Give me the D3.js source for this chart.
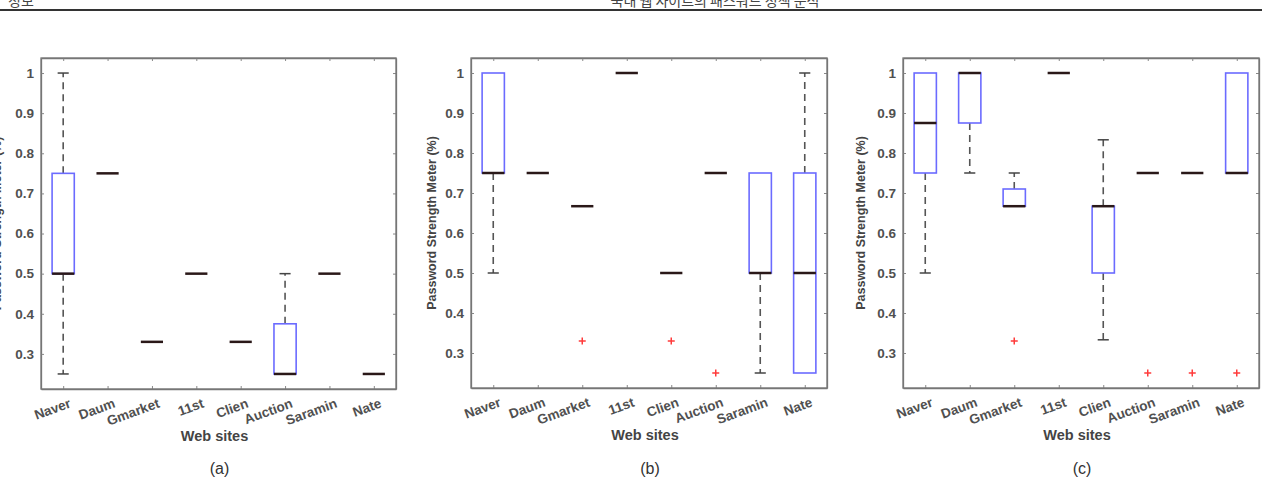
<!DOCTYPE html>
<html>
<head>
<meta charset="utf-8">
<script src="https://cdn.jsdelivr.net/npm/d3@7"></script>
<style>
  body { margin: 0; background: #fff; }
  svg { display: block; }
</style>
</head>
<body>
<div id="viz"></div>
<script>
// page size
const width = 1262
const height = 498

// categories and ticks
const sites = ["Naver", "Daum", "Gmarket", "11st", "Clien", "Auction", "Saramin", "Nate"];
const yTicks = [0.3, 0.4, 0.5, 0.6, 0.7, 0.8, 0.9, 1];

// panel (a): whisker low, q1, median, q3, whisker high
const aLow  = [0.25, 0.75, 0.33, 0.5, 0.33, 0.25, 0.5, 0.25];
const aQ1   = [0.5, 0.75, 0.33, 0.5, 0.33, 0.25, 0.5, 0.25];
const aMed  = [0.5, 0.75, 0.33, 0.5, 0.33, 0.25, 0.5, 0.25];
const aQ3   = [0.75, 0.75, 0.33, 0.5, 0.33, 0.375, 0.5, 0.25];
const aHigh = [1, 0.75, 0.33, 0.5, 0.33, 0.5, 0.5, 0.25];
const aOutSite = [];
const aOutVal  = [];

// panel (b)
const bLow  = [0.5, 0.75, 0.667, 1, 0.5, 0.75, 0.25, 0.25];
const bQ1   = [0.75, 0.75, 0.667, 1, 0.5, 0.75, 0.5, 0.25];
const bMed  = [0.75, 0.75, 0.667, 1, 0.5, 0.75, 0.5, 0.5];
const bQ3   = [1, 0.75, 0.667, 1, 0.5, 0.75, 0.75, 0.75];
const bHigh = [1, 0.75, 0.667, 1, 0.5, 0.75, 0.75, 1];
const bOutSite = ["Gmarket", "Clien", "Auction"];
const bOutVal  = [0.33, 0.33, 0.25];

// panel (c)
const cLow  = [0.5, 0.75, 0.667, 1, 0.333, 0.75, 0.75, 0.75];
const cQ1   = [0.75, 0.875, 0.667, 1, 0.5, 0.75, 0.75, 0.75];
const cMed  = [0.875, 1, 0.667, 1, 0.667, 0.75, 0.75, 0.75];
const cQ3   = [1, 1, 0.71, 1, 0.667, 0.75, 0.75, 1];
const cHigh = [1, 1, 0.75, 1, 0.833, 0.75, 0.75, 1];
const cOutSite = ["Gmarket", "Auction", "Saramin", "Nate"];
const cOutVal  = [0.33, 0.25, 0.25, 0.25];

const svg = d3.select("#viz")
    .append("svg")
    .attr("width", width)
    .attr("height", height);

// running header of the page (cut off at the top, as in the scan)
svg.append("line")
    .attr("x1", 0).attr("x2", width)
    .attr("y1", 10).attr("y2", 10)
    .attr("stroke", "#333")
    .attr("stroke-width", 2);
svg.append("text")
    .attr("x", 8).attr("y", 6)
    .attr("font-family", "Noto Sans CJK KR")
    .attr("font-size", 14)
    .attr("fill", "#444")
    .text("정보");
svg.append("text")
    .attr("x", 715).attr("y", 6)
    .attr("text-anchor", "middle")
    .attr("font-family", "Noto Sans CJK KR")
    .attr("font-size", 14)
    .attr("fill", "#444")
    .text("국내 웹 사이트의 패스워드 정책 분석");

function toRows(site, low, q1, med, q3, high) {
    return site.map((s, i) => ({site: s, low: low[i], q1: q1[i], med: med[i], q3: q3[i], high: high[i]}));
}

const panels = [
    {left: 41, right: 396, top: 58, bottom: 389, tag: "(a)", ylx: -2,
     rows: toRows(sites, aLow, aQ1, aMed, aQ3, aHigh),
     outs: aOutSite.map((s, i) => ({site: s, v: aOutVal[i]}))},
    {left: 471, right: 827, top: 58, bottom: 388, tag: "(b)", ylx: 433,
     rows: toRows(sites, bLow, bQ1, bMed, bQ3, bHigh),
     outs: bOutSite.map((s, i) => ({site: s, v: bOutVal[i]}))},
    {left: 903, right: 1259, top: 58, bottom: 388, tag: "(c)", ylx: 862,
     rows: toRows(sites, cLow, cQ1, cMed, cQ3, cHigh),
     outs: cOutSite.map((s, i) => ({site: s, v: cOutVal[i]}))}
];

const labelColor = "#505050";
const font = "Liberation Sans, Arial, sans-serif";

panels.forEach(function(p) {
    const g = svg.append("g");

    // x: categories at 1..8 with half a step of padding
    const x = d3.scalePoint().domain(sites).range([p.left, p.right]).padding(0.5);
    const step = x.step();
    const y = d3.scaleLinear().domain([0.2125, 1.0375]).range([p.bottom, p.top]);
    const bw = step * 0.5;

    // axes: left with labels, others as ticks only
    const left = g.append("g")
        .attr("transform", "translate(" + p.left + ",0)")
        .call(d3.axisLeft(y).tickValues(yTicks).tickSizeInner(-3).tickSizeOuter(0)
            .tickPadding(7).tickFormat(d3.format("")));
    left.selectAll("text")
        .attr("font-family", font).attr("font-weight", "bold")
        .attr("font-size", 13.5).attr("fill", labelColor);
    g.append("g")
        .attr("transform", "translate(" + p.right + ",0)")
        .call(d3.axisRight(y).tickValues(yTicks).tickSizeInner(-3).tickSizeOuter(0).tickFormat(""));
    const bottom = g.append("g")
        .attr("transform", "translate(0," + p.bottom + ")")
        .call(d3.axisBottom(x).tickSizeInner(-3).tickSizeOuter(0));
    g.append("g")
        .attr("transform", "translate(0," + p.top + ")")
        .call(d3.axisTop(x).tickSizeInner(-3).tickSizeOuter(0).tickFormat(""));
    g.selectAll(".domain").attr("stroke", "#777").attr("stroke-width", 1.3);
    g.selectAll(".tick line").attr("stroke", "#888");

    // rotated site names
    bottom.selectAll("text")
        .attr("font-family", font).attr("font-weight", "bold")
        .attr("font-size", 13.5).attr("fill", labelColor)
        .attr("text-anchor", "end")
        .attr("dy", null)
        .attr("y", null)
        .attr("transform", "translate(8,18) rotate(-20)");

    // box edges
    g.append("rect")
        .attr("x", p.left).attr("y", p.top)
        .attr("width", p.right - p.left).attr("height", p.bottom - p.top)
        .attr("fill", "none").attr("stroke", "#777").attr("stroke-width", 1.3);

    // whiskers
    const rows = g.selectAll(".bx").data(p.rows).enter().append("g").attr("class", "bx");
    rows.filter(d => d.high > d.q3).append("line")
        .attr("x1", d => x(d.site)).attr("x2", d => x(d.site))
        .attr("y1", d => y(d.q3)).attr("y2", d => y(d.high))
        .attr("stroke", "#555").attr("stroke-width", 1.6).attr("stroke-dasharray", "7,5");
    rows.filter(d => d.low < d.q1).append("line")
        .attr("x1", d => x(d.site)).attr("x2", d => x(d.site))
        .attr("y1", d => y(d.q1)).attr("y2", d => y(d.low))
        .attr("stroke", "#555").attr("stroke-width", 1.6).attr("stroke-dasharray", "7,5");
    rows.filter(d => d.high > d.q3).append("line")
        .attr("x1", d => x(d.site) - bw / 4).attr("x2", d => x(d.site) + bw / 4)
        .attr("y1", d => y(d.high)).attr("y2", d => y(d.high))
        .attr("stroke", "#444").attr("stroke-width", 1.5);
    rows.filter(d => d.low < d.q1).append("line")
        .attr("x1", d => x(d.site) - bw / 4).attr("x2", d => x(d.site) + bw / 4)
        .attr("y1", d => y(d.low)).attr("y2", d => y(d.low))
        .attr("stroke", "#444").attr("stroke-width", 1.5);

    // boxes
    rows.filter(d => d.q3 > d.q1).append("rect")
        .attr("x", d => x(d.site) - bw / 2)
        .attr("y", d => y(d.q3))
        .attr("width", bw)
        .attr("height", d => y(d.q1) - y(d.q3))
        .attr("fill", "none").attr("stroke", "#6b6bff").attr("stroke-width", 1.6);

    // medians
    rows.append("line")
        .attr("x1", d => x(d.site) - bw / 2).attr("x2", d => x(d.site) + bw / 2)
        .attr("y1", d => y(d.med)).attr("y2", d => y(d.med))
        .attr("stroke", "#2a1818").attr("stroke-width", 2.5);

    // outliers
    g.selectAll(".out").data(p.outs).enter().append("path")
        .attr("class", "out")
        .attr("transform", d => "translate(" + x(d.site) + "," + y(d.v) + ")")
        .attr("d", "M-3.5,0H3.5M0,-3.5V3.5")
        .attr("stroke", "#ff3b3b").attr("stroke-width", 1.5);

    // axis titles
    g.append("text")
        .attr("x", (p.left + p.right) / 2 - 4).attr("y", p.bottom + 52)
        .attr("text-anchor", "middle")
        .attr("font-family", font).attr("font-weight", "bold")
        .attr("font-size", 14.5).attr("fill", "#444")
        .text("Web sites");
    g.append("text")
        .attr("transform", "translate(" + p.ylx + "," + (p.top + p.bottom) / 2 + ") rotate(-90)")
        .attr("text-anchor", "middle")
        .attr("dominant-baseline", "middle")
        .attr("font-family", font).attr("font-weight", "bold")
        .attr("font-size", 12.5).attr("fill", "#444")
        .text("Password Strength Meter (%)");

    // sub-figure tag
    g.append("text")
        .attr("x", (p.left + p.right) / 2 + 1).attr("y", 474)
        .attr("text-anchor", "middle")
        .attr("font-family", font)
        .attr("font-size", 16).attr("fill", "#333")
        .text(p.tag);
});
</script>
</body>
</html>
